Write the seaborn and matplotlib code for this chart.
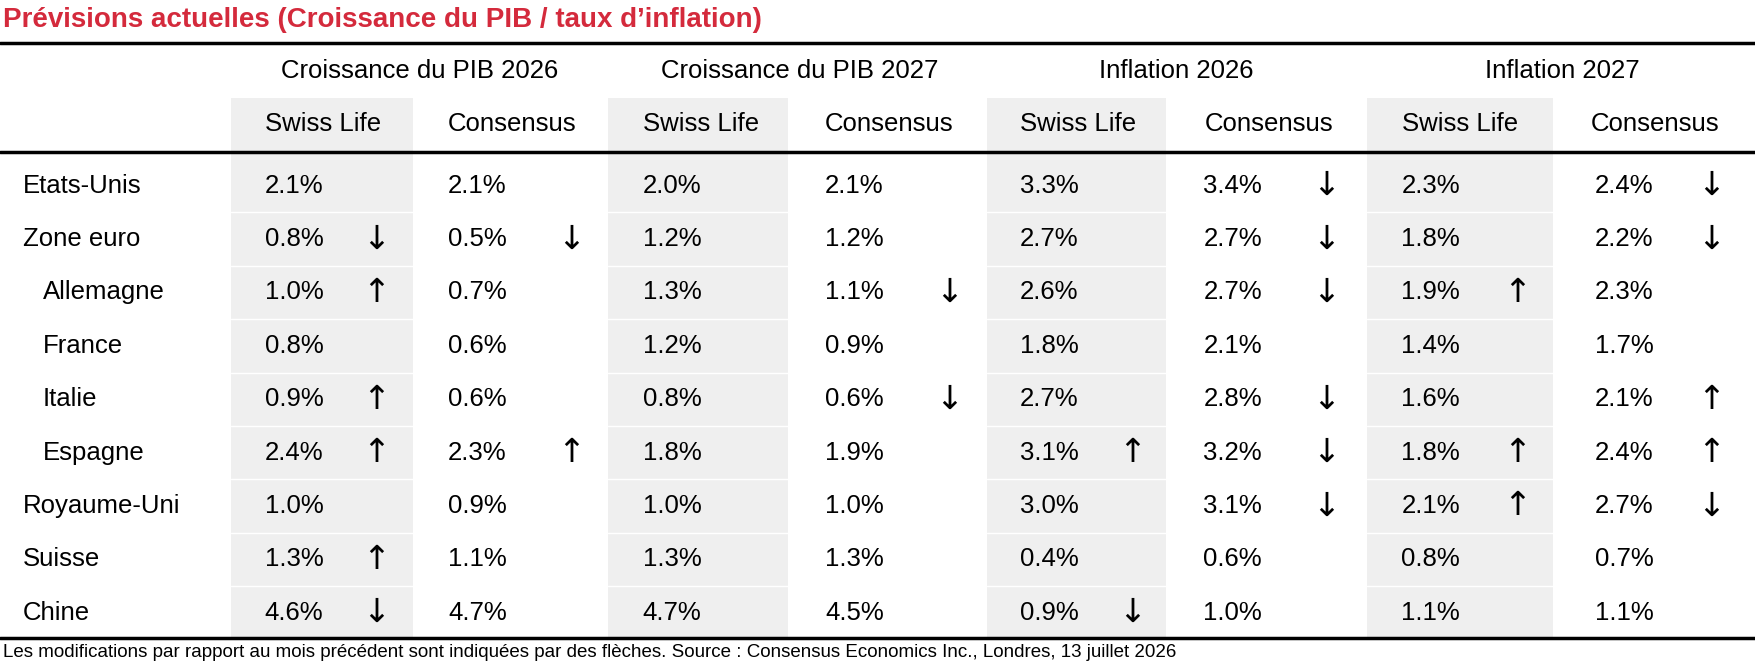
import matplotlib
matplotlib.use("Agg")
import matplotlib.pyplot as plt
import seaborn as sns
from matplotlib.patches import Rectangle

sns.set_theme(style="white")
plt.rcParams['font.family'] = ['Liberation Sans Narrow', 'Liberation Sans', 'DejaVu Sans']

title = "Prévisions actuelles (Croissance du PIB / taux d’inflation)"
footnote = "Les modifications par rapport au mois précédent sont indiquées par des flèches. Source : Consensus Economics Inc., Londres, 13 juillet 2026"
groups = ["Croissance du PIB 2026", "Croissance du PIB 2027", "Inflation 2026", "Inflation 2027"]
subheads = ["Swiss Life", "Consensus"]
countries = ["Etats-Unis", "Zone euro", "Allemagne", "France", "Italie", "Espagne", "Royaume-Uni", "Suisse", "Chine"]
indented = [False, False, True, True, True, True, False, False, False]

gdp26_sl = ["2.1%", "0.8%", "1.0%", "0.8%", "0.9%", "2.4%", "1.0%", "1.3%", "4.6%"]
gdp26_cs = ["2.1%", "0.5%", "0.7%", "0.6%", "0.6%", "2.3%", "0.9%", "1.1%", "4.7%"]
gdp27_sl = ["2.0%", "1.2%", "1.3%", "1.2%", "0.8%", "1.8%", "1.0%", "1.3%", "4.7%"]
gdp27_cs = ["2.1%", "1.2%", "1.1%", "0.9%", "0.6%", "1.9%", "1.0%", "1.3%", "4.5%"]
inf26_sl = ["3.3%", "2.7%", "2.6%", "1.8%", "2.7%", "3.1%", "3.0%", "0.4%", "0.9%"]
inf26_cs = ["3.4%", "2.7%", "2.7%", "2.1%", "2.8%", "3.2%", "3.1%", "0.6%", "1.0%"]
inf27_sl = ["2.3%", "1.8%", "1.9%", "1.4%", "1.6%", "1.8%", "2.1%", "0.8%", "1.1%"]
inf27_cs = ["2.4%", "2.2%", "2.3%", "1.7%", "2.1%", "2.4%", "2.7%", "0.7%", "1.1%"]

# arrows: u = up, d = down, "" = none
arr_gdp26_sl = ["", "d", "u", "", "u", "u", "", "u", "d"]
arr_gdp26_cs = ["", "d", "", "", "", "u", "", "", ""]
arr_gdp27_sl = ["", "", "", "", "", "", "", "", ""]
arr_gdp27_cs = ["", "", "d", "", "d", "", "", "", ""]
arr_inf26_sl = ["", "", "", "", "", "u", "", "", "d"]
arr_inf26_cs = ["d", "d", "d", "", "d", "d", "d", "", ""]
arr_inf27_sl = ["", "", "u", "", "", "u", "u", "", ""]
arr_inf27_cs = ["d", "d", "", "", "u", "u", "d", "", ""]

values = [gdp26_sl, gdp26_cs, gdp27_sl, gdp27_cs, inf26_sl, inf26_cs, inf27_sl, inf27_cs]
arrows = [arr_gdp26_sl, arr_gdp26_cs, arr_gdp27_sl, arr_gdp27_cs,
          arr_inf26_sl, arr_inf26_cs, arr_inf27_sl, arr_inf27_cs]

W, H = 1560, 596
fig = plt.figure(figsize=(17.56, 6.71), dpi=100)
ax = fig.add_axes([0, 0, 1, 1])
ax.set_xlim(0, W)
ax.set_ylim(H, 0)
ax.axis("off")

shade_x = [(205, 367), (540, 700), (877, 1036), (1214, 1380)]
for x0, x1 in shade_x:
    ax.add_patch(Rectangle((x0, 87), x1 - x0, 567 - 87, color="#efefef", lw=0, zorder=0))

row_y = [165 + i * 47.4 for i in range(len(countries))]
for i in range(len(countries) - 1):
    yb = (row_y[i] + row_y[i + 1]) / 2
    for x0, x1 in shade_x:
        ax.plot([x0, x1], [yb, yb], color="white", lw=1, zorder=1)

fs = 18.5
ax.text(3, 18, title, color="#d42a3c", fontsize=20, fontweight="bold",
        family=["Liberation Sans", "DejaVu Sans"], va="center", ha="left")
ax.plot([0, W], [38, 38], color="black", lw=2.5)
ax.plot([0, W], [135, 135], color="black", lw=2.5)
ax.plot([0, W], [567, 567], color="black", lw=2.5)

group_cx = [373, 710, 1045, 1388]
for g, cx in zip(groups, group_cx):
    ax.text(cx, 63, g, fontsize=fs, ha="center", va="center", color="black")
sub_cx = [287, 455, 623, 790, 958, 1127, 1297, 1470]
for j, cx in enumerate(sub_cx):
    ax.text(cx, 110, subheads[j % 2], fontsize=fs, ha="center", va="center", color="black")

val_x = [235, 398, 571, 733, 906, 1069, 1245, 1417]
arr_x = [334, 507, 670, 843, 1006, 1178, 1348, 1520]
for i, c in enumerate(countries):
    y = row_y[i]
    ax.text(38 if indented[i] else 20, y, c, fontsize=fs, ha="left", va="center", color="black")
    for j in range(8):
        ax.text(val_x[j], y, values[j][i], fontsize=fs, ha="left", va="center", color="black")
        a = arrows[j][i]
        if a:
            ax.text(arr_x[j], y, "↑" if a == "u" else "↓", fontsize=24, ha="center",
                    va="center", color="black", family=["DejaVu Sans"])

ax.text(3, 580, footnote, fontsize=13.5, ha="left", va="center", color="black")
fig.savefig("out.png", dpi=100)
